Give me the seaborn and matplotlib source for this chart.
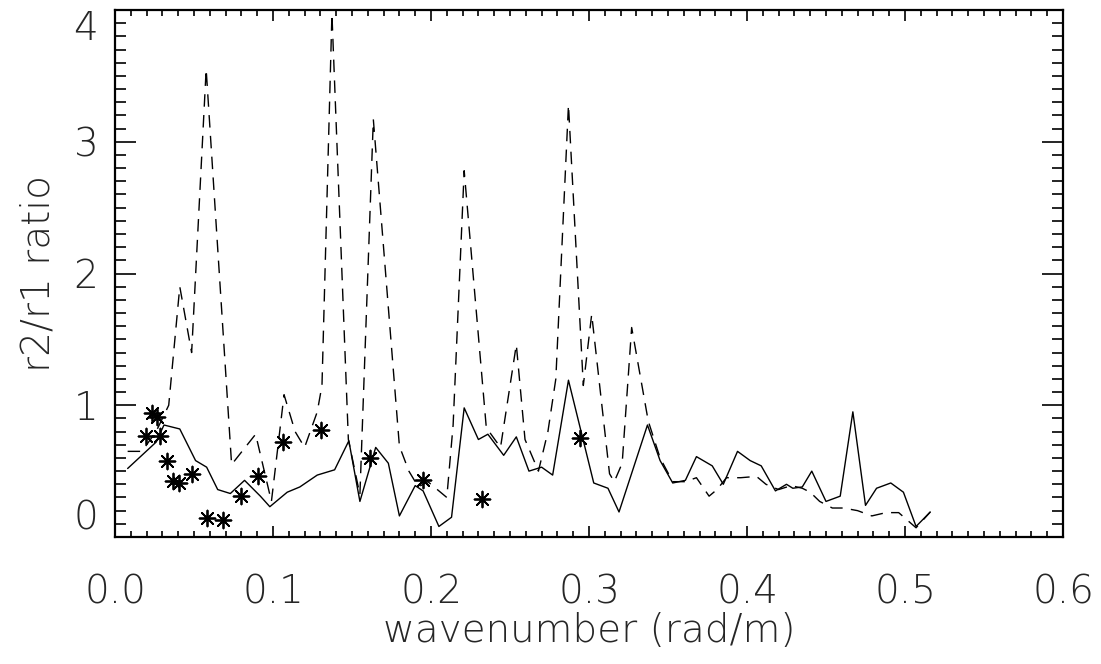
import matplotlib
matplotlib.use('Agg')
import matplotlib.pyplot as plt
from matplotlib.ticker import MultipleLocator
import seaborn as sns

# solid curve
solid_x = [0.008, 0.026, 0.031, 0.041, 0.051, 0.058, 0.065, 0.073, 0.082, 0.092,
           0.098, 0.109, 0.117, 0.128, 0.139, 0.148, 0.155, 0.165, 0.173, 0.180,
           0.190, 0.195, 0.205, 0.213, 0.221, 0.230, 0.236, 0.246, 0.254, 0.262,
           0.270, 0.277, 0.287, 0.303, 0.312, 0.319, 0.337, 0.345, 0.353, 0.361,
           0.368, 0.378, 0.385, 0.394, 0.402, 0.409, 0.418, 0.425, 0.429, 0.435,
           0.441, 0.450, 0.459, 0.467, 0.475, 0.482, 0.491, 0.499, 0.507, 0.516]
solid_y = [0.52, 0.72, 0.85, 0.82, 0.58, 0.53, 0.36, 0.33, 0.43, 0.31,
           0.23, 0.34, 0.38, 0.47, 0.51, 0.73, 0.27, 0.68, 0.56, 0.16,
           0.39, 0.35, 0.08, 0.15, 0.98, 0.74, 0.78, 0.62, 0.76, 0.50,
           0.53, 0.47, 1.19, 0.41, 0.37, 0.19, 0.85, 0.58, 0.41, 0.43,
           0.61, 0.54, 0.40, 0.65, 0.58, 0.54, 0.35, 0.40, 0.37, 0.38,
           0.50, 0.27, 0.31, 0.95, 0.24, 0.37, 0.41, 0.34, 0.08, 0.19]

# dashed curve
dash_x = [0.008, 0.017, 0.026, 0.034, 0.041, 0.0485, 0.0577, 0.0738, 0.089, 0.099,
          0.107, 0.114, 0.120, 0.128, 0.131, 0.1373, 0.1477, 0.155, 0.1635, 0.180,
          0.186, 0.192, 0.198, 0.205, 0.210, 0.214, 0.221, 0.235, 0.244, 0.254,
          0.2595, 0.268, 0.274, 0.279, 0.287, 0.2964, 0.3017, 0.313, 0.316, 0.321,
          0.327, 0.3375, 0.345, 0.353, 0.361, 0.368, 0.376, 0.381, 0.387, 0.396,
          0.406, 0.412, 0.420, 0.428, 0.435, 0.440, 0.446, 0.454, 0.461, 0.470,
          0.479, 0.488, 0.496, 0.507, 0.516]
dash_y = [0.65, 0.65, 0.80, 1.00, 1.90, 1.40, 3.55, 0.55, 0.78, 0.27,
          1.08, 0.80, 0.68, 0.95, 1.15, 3.97, 0.74, 0.32, 3.17, 0.69,
          0.50, 0.38, 0.42, 0.35, 0.30, 0.85, 2.78, 0.83, 0.68, 1.46,
          0.74, 0.50, 0.80, 1.20, 3.28, 1.15, 1.69, 0.48, 0.42, 0.56,
          1.59, 0.88, 0.60, 0.42, 0.42, 0.45, 0.31, 0.36, 0.45, 0.45,
          0.46, 0.40, 0.36, 0.39, 0.37, 0.34, 0.27, 0.22, 0.22, 0.20,
          0.16, 0.185, 0.185, 0.07, 0.19]

# asterisk points
star_x = [0.0196, 0.0232, 0.0264, 0.0285, 0.0327, 0.0369, 0.0407, 0.0485, 0.058,
          0.0686, 0.080, 0.0907, 0.1065, 0.1304, 0.1614, 0.1951, 0.232, 0.294]
star_y = [0.77, 0.94, 0.91, 0.77, 0.58, 0.425, 0.41, 0.48, 0.147,
          0.13, 0.31, 0.46, 0.72, 0.81, 0.60, 0.43, 0.29, 0.75]

sns.set_style('white')
plt.rcParams['font.family'] = ['DejaVu Sans']
fs = 28

fig = plt.figure(figsize=(11.01, 6.64), dpi=100)
ax = fig.add_axes([115/1101, 127/664, 948/1101, 527/664])

sns.lineplot(x=solid_x, y=solid_y, ax=ax, color='k', lw=1.0, sort=False, estimator=None)
sns.lineplot(x=dash_x, y=dash_y, ax=ax, color='k', lw=1.0, sort=False, estimator=None)
ax.lines[-1].set_dashes([9, 6])
sns.scatterplot(x=star_x, y=star_y, ax=ax, marker=(8, 2, 0), color='k',
                s=130, linewidths=1.3, zorder=3)

ax.set_yticks([0, 1, 2, 3, 4])
ax.xaxis.set_major_locator(MultipleLocator(0.1))
ax.xaxis.set_minor_locator(MultipleLocator(0.01))
ax.yaxis.set_minor_locator(MultipleLocator(0.1))
ax.xaxis.set_major_formatter(matplotlib.ticker.FormatStrFormatter('%.1f'))
ax.yaxis.set_major_formatter(matplotlib.ticker.FormatStrFormatter('%d'))
ax.set_xlim(0, 0.6)
ax.set_ylim(0, 4)

for s in ax.spines.values():
    s.set_linewidth(1.6)
    s.set_color('k')

ax.tick_params(axis='x', which='both', direction='in', top=True, bottom=True, color='k', width=1.2)
ax.tick_params(axis='x', which='major', length=8, pad=26, labelsize=fs)
ax.tick_params(axis='x', which='minor', length=4.5)
ax.tick_params(axis='y', which='both', direction='in', left=True, right=True, color='k', width=1.2)
ax.tick_params(axis='y', which='major', length=15, pad=12, labelsize=fs)
ax.tick_params(axis='y', which='minor', length=8)

fig.canvas.draw()
for label in ax.get_xticklabels() + ax.get_yticklabels():
    label.set_fontweight(200)
# end labels sit inside the axis range, like the original
for tick in ax.yaxis.get_major_ticks():
    txt = tick.label1.get_text()
    if txt == '0':
        tick.label1.set_verticalalignment('bottom')
    elif txt == '4':
        tick.label1.set_verticalalignment('top')

ax.set_xlabel('wavenumber (rad/m)', fontsize=fs, fontweight=200)
ax.set_ylabel('r2/r1 ratio', fontsize=fs, fontweight=200)
ax.xaxis.set_label_coords(0.5, -0.142)
ax.yaxis.set_label_coords(-0.061, 0.5)

fig.savefig('out.png', dpi=100)
